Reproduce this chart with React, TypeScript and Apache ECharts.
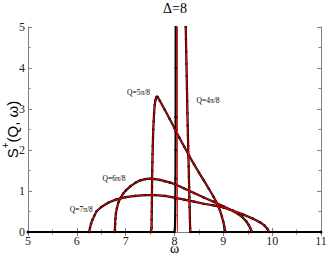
import React, { useEffect, useRef } from "react";
import * as echarts from "echarts";

// ω (x) and S+(Q,ω) (y)
const xTicks = [5, 6, 7, 8, 9, 10, 11];
const yTicks = [0, 1, 2, 3, 4, 5];

const q4Black: [number, number][] = [
  [5, 0], [8.0, 0], [8.01, 0.1], [8.015, 0.4], [8.018, 0.8], [8.02, 1.3], [8.022, 2.0],
  [8.023, 2.8], [8.024, 4.0], [8.025, 6.0], [8.22, 6.0], [8.23, 5.0], [8.235, 4.7], [8.24, 4.4],
  [8.245, 4.1], [8.25, 3.8], [8.255, 3.5], [8.26, 3.2], [8.265, 2.9], [8.27, 2.6], [8.275, 2.35],
  [8.28, 2.1], [8.285, 1.85], [8.29, 1.6], [8.295, 1.35], [8.3, 1.1], [8.305, 0.85], [8.31, 0.6],
  [8.315, 0.35], [8.32, 0.1], [8.325, 0], [11, 0],
];
const q4Red: [number, number][] = [
  [8.06, 0], [8.06, 6.0], [8.22, 6.0], [8.23, 5.0], [8.24, 4.4], [8.25, 3.8], [8.26, 3.2],
  [8.27, 2.6], [8.28, 2.1], [8.29, 1.6], [8.3, 1.1], [8.31, 0.6], [8.32, 0.1], [8.325, 0],
];
const q5Black: [number, number][] = [
  [5, 0], [7.52, 0], [7.53, 0.1], [7.532, 0.3], [7.534, 0.5], [7.536, 0.7], [7.538, 0.9],
  [7.54, 1.1], [7.542, 1.3], [7.545, 1.5], [7.548, 1.7], [7.551, 1.9], [7.555, 2.1], [7.56, 2.3],
  [7.566, 2.5], [7.573, 2.7], [7.582, 2.9], [7.595, 3.1], [7.61, 3.22], [7.63, 3.29], [7.645, 3.3],
  [7.66, 3.28], [7.7, 3.2], [7.8, 2.98], [7.9, 2.76], [8.0, 2.53], [8.1, 2.3], [8.2, 2.08],
  [8.3, 1.86], [8.4, 1.65], [8.5, 1.45], [8.6, 1.26], [8.7, 1.06], [8.8, 0.86], [8.87, 0.7],
  [8.93, 0.53], [8.97, 0.38], [9.0, 0.25], [9.02, 0.13], [9.035, 0.04], [9.04, 0], [11, 0],
];
const q6Black: [number, number][] = [
  [5, 0], [6.77, 0], [6.78, 0.05], [6.785, 0.2], [6.79, 0.33], [6.8, 0.45], [6.82, 0.58],
  [6.85, 0.72], [6.9, 0.84], [6.95, 0.94], [7.0, 1.01], [7.1, 1.12], [7.2, 1.2], [7.3, 1.26],
  [7.4, 1.29], [7.5, 1.3], [7.6, 1.29], [7.7, 1.27], [7.8, 1.24], [7.9, 1.21], [8.0, 1.17],
  [8.2, 1.06], [8.4, 0.95], [8.6, 0.84], [8.8, 0.74], [9.0, 0.63], [9.2, 0.51], [9.3, 0.44],
  [9.4, 0.35], [9.47, 0.26], [9.52, 0.17], [9.55, 0.1], [9.57, 0.04], [9.58, 0], [11, 0],
];
const q7Black: [number, number][] = [
  [5, 0], [6.25, 0], [6.26, 0], [6.27, 0.1], [6.29, 0.2], [6.32, 0.3], [6.36, 0.4], [6.4, 0.5],
  [6.5, 0.61], [6.65, 0.72], [6.8, 0.79], [7.0, 0.85], [7.2, 0.88], [7.4, 0.9], [7.6, 0.9],
  [7.8, 0.88], [8.0, 0.84], [8.2, 0.79], [8.4, 0.74], [8.6, 0.69], [8.8, 0.65], [9.0, 0.6],
  [9.2, 0.52], [9.4, 0.43], [9.6, 0.33], [9.75, 0.24], [9.84, 0.16], [9.9, 0.08], [9.94, 0], [11, 0],
];

const labels = [
  { text: "Q=5π/8", x: 138.5, y: 92.5 },
  { text: "Q=4π/8", x: 208, y: 100 },
  { text: "Q=6π/8", x: 114, y: 178.7 },
  { text: "Q=7π/8", x: 81.3, y: 209.7 },
];

const support = (d: [number, number][]) => {
  let s = 0;
  let e = d.length - 1;
  for (let i = 0; i < d.length; i++) if (d[i][1] === 0 && (i + 1 < d.length && d[i + 1][1] > 0)) { s = i; break; }
  for (let i = d.length - 1; i > 0; i--) if (d[i][1] === 0 && d[i - 1][1] > 0) { e = i; break; }
  return d.slice(s, e + 1);
};

const serif = "Times New Roman, Liberation Serif, DejaVu Serif, serif";
const sans = "Liberation Sans, Arial, sans-serif";
const frame = "#808080";

export default function App() {
  const ref = useRef<HTMLDivElement>(null);
  useEffect(() => {
    if (!ref.current) return;
    const chart = echarts.init(ref.current, null, { renderer: "svg" });
    const axisCommon = (showLabel: boolean) => ({
      axisLine: { show: true, lineStyle: { color: frame, width: 1 } },
      axisTick: { show: true, inside: true, length: 4, lineStyle: { color: frame } },
      minorTick: { show: true, splitNumber: 2, length: 2.5, lineStyle: { color: frame } },
      splitLine: { show: false },
      minorSplitLine: { show: false },
      axisLabel: showLabel
        ? { show: true, fontFamily: serif, fontSize: 12, lineHeight: 11, color: "#222", margin: 3 }
        : { show: false },
    });
    const blackSeries = [q4Black, q5Black, q6Black, q7Black].map((d) => ({
      type: "line",
      data: d,
      xAxisIndex: 0,
      yAxisIndex: 0,
      showSymbol: true,
      showAllSymbol: true,
      symbol: "circle",
      symbolSize: 2.5,
      itemStyle: { color: "#000" },
      lineStyle: { color: "#000", width: 2.2 },
      clip: true,
      z: 2,
    }));
    const redSeries = [q4Red, support(q5Black), support(q6Black), support(q7Black)].map((d) => ({
      type: "line",
      data: d,
      xAxisIndex: 0,
      yAxisIndex: 0,
      showSymbol: false,
      lineStyle: { color: "#ff0000", width: 1 },
      clip: true,
      z: 3,
    }));
    chart.setOption({
      animation: false,
      grid: { left: 28, right: 6, top: 27, bottom: 22, containLabel: false, outerBoundsMode: "none" },
      xAxis: [
        {
          type: "value", min: xTicks[0], max: xTicks[xTicks.length - 1], interval: 1, position: "bottom",
          name: "ω", nameLocation: "middle", nameGap: 11, nameMoveOverlap: false,
          nameTextStyle: { fontFamily: serif, fontSize: 14, lineHeight: 10, color: "#000" },
          ...axisCommon(true),
        },
        {
          type: "value", min: xTicks[0], max: xTicks[xTicks.length - 1], interval: 1, position: "top",
          ...axisCommon(false),
        },
      ],
      yAxis: [
        {
          type: "value", min: yTicks[0], max: yTicks[yTicks.length - 1], interval: 1, position: "left",
          name: "{s|S}{p|+}{s|(Q, ω)}", nameLocation: "middle", nameGap: 8, nameMoveOverlap: false,
          nameTextStyle: {
            fontFamily: sans, fontSize: 15, color: "#000",
            rich: {
              s: { fontFamily: sans, fontSize: 15, color: "#000", lineHeight: 20, verticalAlign: "bottom" },
              p: { fontFamily: sans, fontSize: 10, color: "#000", lineHeight: 20, verticalAlign: "top" },
            },
          },
          ...axisCommon(true),
        },
        {
          type: "value", min: yTicks[0], max: yTicks[yTicks.length - 1], interval: 1, position: "right",
          ...axisCommon(false),
        },
      ],
      graphic: [
        {
          type: "text", x: 175, y: 8,
          style: { text: "Δ=8", fontFamily: serif, fontSize: 14, fill: "#000", textAlign: "center", textVerticalAlign: "middle" },
        },
        ...labels.map((l) => ({
          type: "text", x: l.x, y: l.y, z: 10,
          style: { text: l.text, fontFamily: serif, fontSize: 7.5, fill: "#000", textAlign: "center", textVerticalAlign: "middle" },
        })),
      ],
      series: [...blackSeries, ...redSeries],
    });
    return () => chart.dispose();
  }, []);
  return <div ref={ref} style={{ width: 327, height: 254, position: "absolute", left: 0, top: 0 }} />;
}
